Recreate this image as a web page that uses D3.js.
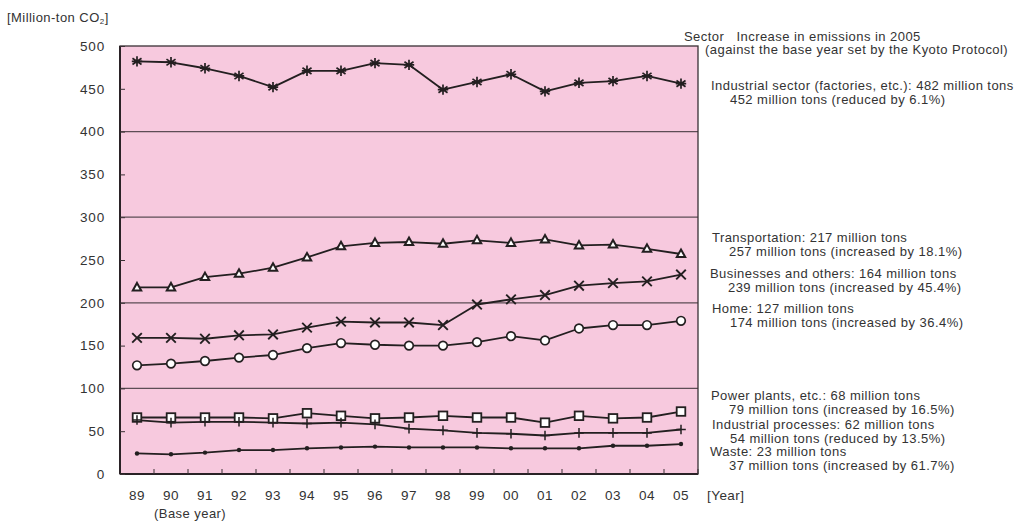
<!DOCTYPE html>
<html><head><meta charset="utf-8">
<script src="https://cdn.jsdelivr.net/npm/d3@7"></script>
<style>
html,body{margin:0;padding:0;background:#fff;}
svg{display:block;font-family:"Liberation Sans",Arial,sans-serif;}
</style></head>
<body>
<svg id="chart" width="1018" height="521"></svg>
<script>
// ---- data ----
const years = ["89","90","91","92","93","94","95","96","97","98","99","00","01","02","03","04","05"];
const yTicks = [0,50,100,150,200,250,300,350,400,450,500];
const gridValues = [100,200,300,400];
const industrial = [482,481,474,465,452,471,471,480,478,449,458,467,447,457,459,465,456];
const transportation = [218,218,230,234,241,253,266,270,271,269,273,270,274,267,268,263,257];
const businesses = [159,159,158,162,163,171,178,177,177,174,198,204,209,220,223,225,233];
const home = [127,129,132,136,139,147,153,151,150,150,154,161,156,170,174,174,179];
const power = [66,66,66,66,65,71,68,65,66,68,66,66,60,68,65,66,73];
const processes = [63,60,61,61,60,59,60,58,53,51,48,47,45,48,48,48,52];
const waste = [24,23,25,28,28,30,31,32,31,31,31,30,30,30,33,33,35];
const seriesNames = ["industrial","transportation","businesses","home","power","processes","waste"];
const annotationHeader = ["Sector   Increase in emissions in 2005","(against the base year set by the Kyoto Protocol)"];
const annotations = [
  ["Industrial sector (factories, etc.): 482 million tons","452 million tons (reduced by 6.1%)"],
  ["Transportation: 217 million tons","257 million tons (increased by 18.1%)"],
  ["Businesses and others: 164 million tons","239 million tons (increased by 45.4%)"],
  ["Home: 127 million tons","174 million tons (increased by 36.4%)"],
  ["Power plants, etc.: 68 million tons","79 million tons (increased by 16.5%)"],
  ["Industrial processes: 62 million tons","54 million tons (reduced by 13.5%)"],
  ["Waste: 23 million tons","37 million tons (increased by 61.7%)"]
];

// ---- layout ----
const svg = d3.select("#chart");
const L = 120, R = 698, T = 46, B = 474;
const x = d3.scaleBand().domain(years).range([L, R]).padding(0);
const y = d3.scaleLinear().domain([0, 500]).range([B, T]);
const cx = d => x(d) + x.bandwidth() / 2;
const ink = "#231f20", textCol = "#333";
const gridCol = "#5d4d55";
const fs = 13, ls = 0.45;

svg.append("rect").attr("x", L).attr("y", T).attr("width", R - L).attr("height", B - T)
  .attr("fill", "#f7c9de");

// grid
svg.append("g").selectAll("line").data(gridValues).join("line")
  .attr("x1", L).attr("x2", R).attr("y1", d => y(d)).attr("y2", d => y(d))
  .attr("stroke", gridCol).attr("stroke-width", 1.2);

// frame
svg.append("rect").attr("x", L).attr("y", T).attr("width", R - L).attr("height", B - T)
  .attr("fill", "none").attr("stroke", "#3a3035").attr("stroke-width", 1.3);
svg.append("line").attr("x1", L).attr("x2", R).attr("y1", B).attr("y2", B)
  .attr("stroke", "#2a2226").attr("stroke-width", 2);
svg.append("line").attr("x1", L).attr("x2", L).attr("y1", T).attr("y2", B)
  .attr("stroke", "#2a2226").attr("stroke-width", 2);

// y axis (inward ticks)
const yAxis = d3.axisRight(y).tickValues(yTicks).tickSize(5).tickFormat("");
const gy = svg.append("g").attr("transform", `translate(${L},0)`).call(yAxis);
gy.select(".domain").remove();
gy.selectAll("line").attr("stroke", "#3a3035");
svg.append("g").selectAll("text").data(yTicks).join("text")
  .attr("x", 105).attr("y", d => y(d)).attr("dy", "0.36em")
  .attr("text-anchor", "end").attr("font-size", 13.5).attr("letter-spacing", 0.8).attr("fill", textCol)
  .text(d => d);

// x axis ticks at band boundaries (inward)
const xb = years.slice(1).map(d => x(d)).concat([R]);
svg.append("g").selectAll("line").data(xb).join("line")
  .attr("x1", d => d).attr("x2", d => d).attr("y1", B).attr("y2", B - 5)
  .attr("stroke", "#3a3035");
const xAxis = d3.axisBottom(x).tickSize(0).tickPadding(0);
const gx = svg.append("g").attr("transform", `translate(0,${B})`).call(xAxis);
gx.select(".domain").remove();
gx.selectAll("text").attr("y", 21).attr("dy", "0.36em").attr("font-size", 13.5).attr("letter-spacing", 0.5)
  .attr("fill", textCol).attr("font-family", "Liberation Sans, Arial, sans-serif");

svg.append("text").attr("x", 154).attr("y", 518).attr("font-size", fs).attr("letter-spacing", ls).attr("fill", textCol)
  .text("(Base year)");
svg.append("text").attr("x", 707).attr("y", 495).attr("dy", "0.36em").attr("font-size", 13.5).attr("letter-spacing", ls).attr("fill", textCol)
  .text("[Year]");

// y label
const yl = svg.append("text").attr("x", 7).attr("y", 22).attr("font-size", fs).attr("letter-spacing", ls).attr("fill", textCol);
yl.append("tspan").text("[Million-ton CO");
yl.append("tspan").attr("font-size", 8).attr("dy", 2).text("2");
yl.append("tspan").attr("dy", -2).text("]");

// series
const dataMap = {industrial, transportation, businesses, home, power, processes, waste};
const line = d3.line().x((v, i) => cx(years[i])).y(v => y(v));
seriesNames.forEach(name => {
  svg.append("path").datum(dataMap[name]).attr("d", line)
    .attr("fill", "none").attr("stroke", ink).attr("stroke-width", 1.8)
    .attr("stroke-linejoin", "round");
});

function marker(g, name) {
  if (name === "industrial") {
    const s = 5.2;
    g.append("path").attr("d", `M0,${-s}V${s}M${-s*0.87},${-s*0.6}L${s*0.87},${s*0.6}M${-s*0.87},${s*0.6}L${s*0.87},${-s*0.6}M${-s},0H${s}`)
      .attr("stroke", ink).attr("stroke-width", 1.7).attr("fill", "none");
  } else if (name === "transportation") {
    g.append("path").attr("d", "M0,-4.5L4.2,3L-4.2,3Z")
      .attr("fill", "#fff").attr("stroke", ink).attr("stroke-width", 2);
  } else if (name === "businesses") {
    const s = 4.8;
    g.append("path").attr("d", `M${-s},${-s}L${s},${s}M${-s},${s}L${s},${-s}`)
      .attr("stroke", ink).attr("stroke-width", 1.9).attr("fill", "none");
  } else if (name === "home") {
    g.append("circle").attr("r", 4.3).attr("fill", "#fff").attr("stroke", ink).attr("stroke-width", 1.7);
  } else if (name === "power") {
    g.append("rect").attr("x", -4.3).attr("y", -4.3).attr("width", 8.6).attr("height", 8.6)
      .attr("fill", "#fff").attr("stroke", ink).attr("stroke-width", 1.8);
  } else if (name === "processes") {
    const s = 4.8;
    g.append("path").attr("d", `M${-s},0H${s}M0,${-s}V${s}`)
      .attr("stroke", ink).attr("stroke-width", 1.5).attr("fill", "none");
  } else if (name === "waste") {
    g.append("circle").attr("r", 2.2).attr("fill", ink);
  }
}
seriesNames.forEach(name => {
  svg.append("g").selectAll("g").data(dataMap[name]).join("g")
    .attr("transform", (v, i) => `translate(${cx(years[i])},${y(v)})`)
    .each(function () { marker(d3.select(this), name); });
});

// annotations
svg.append("text").attr("x", 684).attr("y", 41).attr("font-size", fs).attr("letter-spacing", ls).attr("fill", textCol)
  .attr("xml:space", "preserve").style("white-space", "pre").text(annotationHeader[0]);
svg.append("text").attr("x", 705).attr("y", 54).attr("font-size", fs).attr("letter-spacing", ls).attr("fill", textCol)
  .text(annotationHeader[1]);
const annPos = [[711, 90], [712, 242], [710, 278], [712, 313], [711, 400], [712, 429], [710, 456]];
const annIndent = [19, 17, 18, 18, 18, 18, 19];
annotations.forEach((a, i) => {
  const [ax, ay] = annPos[i];
  svg.append("text").attr("x", ax).attr("y", ay).attr("font-size", fs).attr("letter-spacing", ls).attr("fill", textCol).text(a[0]);
  svg.append("text").attr("x", ax + annIndent[i]).attr("y", ay + 13.5).attr("font-size", fs).attr("letter-spacing", ls).attr("fill", textCol).text(a[1]);
});
</script>
</body></html>
